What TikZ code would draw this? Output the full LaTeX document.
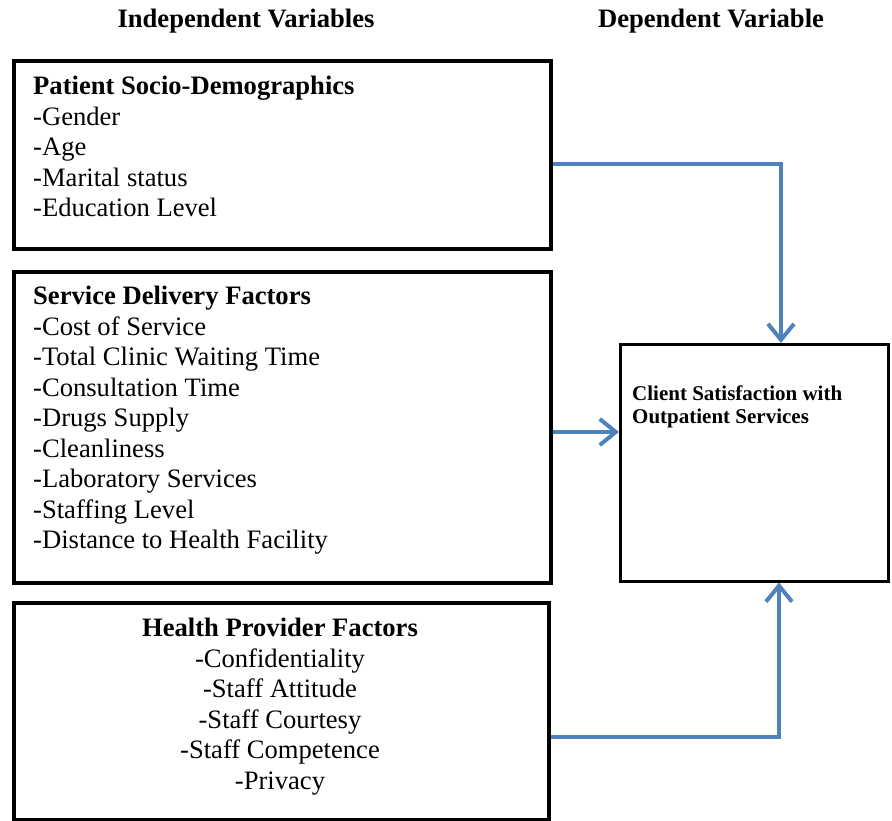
\documentclass[tikz,border=0pt]{standalone}
\usepackage{fontspec}
\setmainfont{Liberation Serif}
\usetikzlibrary{positioning,arrows.meta}
\definecolor{linkblue}{RGB}{79,129,189}

\begin{document}
\begin{tikzpicture}[x=1pt,y=-1pt,
    box/.style={draw,line width=3.5pt,inner sep=0pt,anchor=north west},
    item/.style={font=\fontsize{26.6}{30.5}\selectfont,inner sep=0pt},
    head/.style={font=\fontsize{26.6}{30.5}\selectfont\bfseries,inner sep=0pt,anchor=base},
    link/.style={linkblue,line width=4pt,-{Straight Barb[length=16pt,width=26pt]}}]
    \useasboundingbox (0,0) rectangle (892,820);
    % Titles
    \node[head] (indep) at (246,27) {Independent Variables};
    \node[head] (dep) at (711,27) {Dependent Variable};
    % Boxes
    \node[box,minimum width=537pt,minimum height=188pt] (pat) at (12,59) {};
    \node[box,minimum width=537pt,minimum height=311pt] (svc) at (12,270) {};
    \node[box,minimum width=535pt,minimum height=217pt] (hpf) at (12,601) {};
    \node[box,line width=2.5pt,minimum width=268pt,minimum height=237pt] (sat) at (619,343) {};
    % Texts
    \node[item,align=left,anchor=north west] (patTxt) at (33,76)
      {\textbf{Patient Socio-Demographics}\\-Gender\\-Age\\-Marital status\\-Education Level};
    \node[item,align=left,anchor=north west] (svcTxt) at (33,286)
      {\textbf{Service Delivery Factors}\\-Cost of Service\\-Total Clinic Waiting Time\\-Consultation Time\\-Drugs Supply\\-Cleanliness\\-Laboratory Services\\-Staffing Level\\-Distance to Health Facility};
    \node[item,align=center,anchor=north] (hpfTxt) at (280,618)
      {\textbf{Health Provider Factors}\\-Confidentiality\\-Staff Attitude\\-Staff Courtesy\\-Staff Competence\\-Privacy};
    \node[font=\fontsize{21}{22.5}\selectfont\bfseries,align=left,anchor=north west,inner sep=0pt] (satTxt) at (632,386)
      {Client Satisfaction with\\Outpatient Services};
    % Ways
    \coordinate (k1) at (781,164);
    \coordinate (k2) at (600,432);
    \coordinate (k3) at (779,737);
    \draw[link] (pat.east |- k1) -| (k1 |- sat.north);
    \draw[link] (svc.east |- k2) -- (sat.west |- k2);
    \draw[link] (hpf.east |- k3) -| (k3 |- sat.south);
\end{tikzpicture}
\end{document}
